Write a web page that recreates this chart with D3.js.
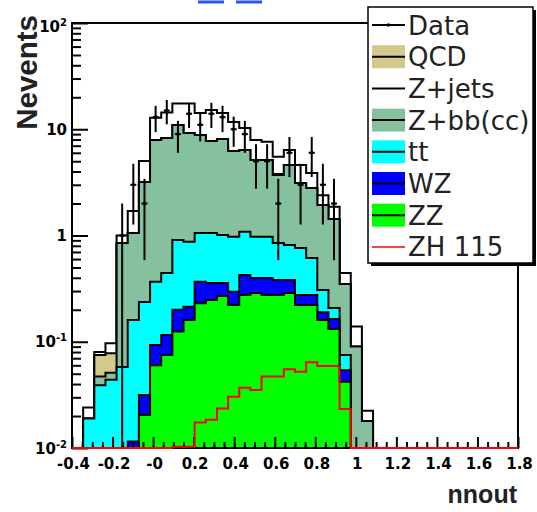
<!DOCTYPE html>
<html><head><meta charset="utf-8">
<script src="https://cdn.jsdelivr.net/npm/d3@7"></script>
<style>html,body{margin:0;padding:0;background:#fff;}svg{display:block;}</style>
</head><body>
<svg id="c" width="537" height="512"></svg>
<script>
// ---- binning ----
const xMin = -0.4, xMax = 1.8, nBins = 40;
const xTickValues = [-0.4,-0.2,0,0.2,0.4,0.6,0.8,1.0,1.2,1.4,1.6,1.8];
const xTickLabels = ["-0.4","-0.2","-0","0.2","0.4","0.6","0.8","1","1.2","1.4","1.6","1.8"];
const yTickValues = [100,10,1,0.1,0.01];
const yTickBase = ["10","10","1","10","10"];
const yTickExp  = ["2","","","-1","-2"];

// ---- series (per bin, 40 bins) ----
const zz   = [0,0,0,0,0,0,0.0205,0.060,0.075,0.125,0.160,0.230,0.247,0.270,0.222,0.275,0.288,0.275,0.275,0.288,0.222,0.222,0.160,0.132,0.042,0,0,0,0,0,0,0,0,0,0,0,0,0,0,0];
const wz   = [0,0,0,0,0,0.0115,0.011,0.033,0.041,0.075,0.054,0.137,0.110,0.087,0.074,0.150,0.110,0.123,0.106,0.093,0.053,0.053,0.030,0.032,0.012,0,0,0,0,0,0,0,0,0,0,0,0,0,0,0];
const tt   = [0,0.019,0.039,0.044,0.058,0.1485,0.205,0.274,0.328,0.708,0.661,0.689,0.699,0.653,0.679,0.662,0.577,0.577,0.469,0.434,0.488,0.339,0.117,0.044,0.021,0,0,0,0,0,0,0,0,0,0,0,0,0,0,0];
const zbb  = [0,0,0.008,0.007,0.79,0.896,2.95,7.56,7.84,10.05,8.35,7.77,6.68,7.08,5.27,5.29,4.16,4.16,2.86,3.80,2.36,2.19,1.63,1.22,0.275,0.090,0.018,0,0,0,0,0,0,0,0,0,0,0,0,0];
const qcd  = [0,0,0.028,0.027,0,0,0,0,0,0,0,0,0,0,0,0,0,0,0.09,0,0,0,0,0,0,0,0,0,0,0,0,0,0,0,0,0,0,0,0,0];
const zjets= [0,0.005,0.005,0.019,0.15,0.644,1.83,4.87,6.1,6.54,8.28,5.37,7.46,6.11,5.46,3.92,2.80,2.51,1.72,1.77,1.49,1.07,0.46,0.44,0.094,0.049,0.0044,0,0,0,0,0,0,0,0,0,0,0,0,0];
const zh   = [0,0,0,0,0,0,0,0,0,0.0103,0.0103,0.0174,0.0184,0.0236,0.0304,0.037,0.0352,0.0471,0.0471,0.0551,0.0522,0.0641,0.0591,0.0591,0.0233,0,0,0,0,0,0,0,0,0,0,0,0,0,0,0];
const data = [0,0,0,0,1,3,2,13,15,9,14,11,14,13,10,9,5,5,2,6,3,6,3,2,0,0,0,0,0,0,0,0,0,0,0,0,0,0,0,0];

const stackKeys   = ["ZZ","WZ","tt","Zbb","QCD","Zjets"];
const stackColors = {ZZ:"#00ff00", WZ:"#0000ff", tt:"#00ffff", Zbb:"#86c19f", QCD:"#d2c98b", Zjets:"#ffffff"};
const legendNames = ["Data","QCD","Z+jets","Z+bb(cc)","tt","WZ","ZZ","ZH 115"];

// ---- layout ----
const L = 72, R = 518, T = 23, B = 448;
const svg = d3.select("#c");
const x = d3.scaleLinear().domain([xMin, xMax]).range([L, R]);
const y = d3.scaleLog().domain([0.01, 100]).range([B, T]);
const bw = (xMax - xMin) / nBins;
const edges = d3.range(nBins + 1).map(i => xMin + i * bw);

const rows = d3.range(nBins).map(i => ({ZZ: zz[i], WZ: wz[i], tt: tt[i], Zbb: zbb[i], QCD: qcd[i], Zjets: zjets[i]}));
const stacked = d3.stack().keys(stackKeys)(rows);

svg.append("rect").attr("x",0).attr("y",0).attr("width",537).attr("height",512).attr("fill","#fff");
svg.append("defs").append("clipPath").attr("id","fr").append("rect").attr("x",L).attr("y",T).attr("width",R-L).attr("height",B-T);
const plot = svg.append("g").attr("clip-path","url(#fr)");

const yc = v => (v > 0.01 ? y(v) : B);
function stepPts(vals){
  const pts = vals.map((v,i) => [edges[i], v]);
  pts.push([edges[nBins], vals[nBins-1]]);
  return pts;
}
const area = d3.area().curve(d3.curveStepAfter).x(d => x(d[0])).y0(B).y1(d => yc(d[1]));
const line = d3.line().curve(d3.curveStepAfter).x(d => x(d[0])).y(d => yc(d[1]));

for (let s = stacked.length - 1; s >= 0; s--) {
  const layer = stacked[s];
  const cum = layer.map(d => d[1]);
  const pts = stepPts(cum);
  plot.append("path").attr("d", area(pts)).attr("fill", stackColors[layer.key]);
  plot.append("path").attr("d", line(pts)).attr("fill","none").attr("stroke","#000").attr("stroke-width",2);
}

// data points
const dg = plot.append("g");
data.forEach((n,i) => {
  if (n <= 0) return;
  const cx = x((edges[i] + edges[i+1]) / 2);
  const e = Math.sqrt(n);
  const lo = n - e > 0.01 ? y(n - e) : B;
  dg.append("line").attr("x1",cx).attr("x2",cx).attr("y1",y(n+e)).attr("y2",lo).attr("stroke","#000").attr("stroke-width",2);
  dg.append("line").attr("x1",cx-3).attr("x2",cx+3).attr("y1",y(n)).attr("y2",y(n)).attr("stroke","#000").attr("stroke-width",2);
  dg.append("circle").attr("cx",cx).attr("cy",y(n)).attr("r",1.8).attr("fill","#000");
});

// ---- axes ----
const minorX = d3.range(-0.4, 1.8001, 0.05).filter(v => Math.abs(Math.round(v*5) - v*5) > 1e-6);
svg.append("g").attr("transform",`translate(0,${B})`)
  .call(d3.axisBottom(x).tickValues(minorX).tickSize(-6).tickFormat(""))
  .call(g => { g.select(".domain").remove(); g.selectAll("line").attr("stroke","#000").attr("stroke-width",2); });
const xAx = svg.append("g").attr("transform",`translate(0,${B})`)
  .call(d3.axisBottom(x).tickValues(xTickValues).tickSize(-11).tickPadding(10).tickFormat((d,i) => xTickLabels[i]))
  .call(g => { g.select(".domain").remove(); g.selectAll("line").attr("stroke","#000").attr("stroke-width",2); });
xAx.selectAll("text").attr("font-family","DejaVu Sans").attr("font-weight","bold").attr("font-size",15).attr("fill","#000").attr("dy","0.71em").attr("x",1);

const minorY = [];
[0.01,0.1,1,10].forEach(dec => { for (let m = 2; m <= 9; m++) minorY.push(dec*m); });
svg.append("g").attr("transform",`translate(${L},0)`)
  .call(d3.axisLeft(y).tickValues(minorY).tickSize(-9).tickFormat(""))
  .call(g => { g.select(".domain").remove(); g.selectAll("line").attr("stroke","#000").attr("stroke-width",2); });
svg.append("g").attr("transform",`translate(${L},0)`)
  .call(d3.axisLeft(y).tickValues(yTickValues).tickSize(-16).tickFormat(""))
  .call(g => { g.select(".domain").remove(); g.selectAll("line").attr("stroke","#000").attr("stroke-width",2); });

const yl = svg.append("g").attr("font-family","DejaVu Sans").attr("font-weight","bold").attr("fill","#000");
yTickValues.forEach((v,i) => {
  let by = y(v) + 5.5;
  if (i === 0) by = y(v) + 9;
  const t = yl.append("text").attr("x", 67).attr("y", by).attr("text-anchor","end").attr("font-size",15);
  t.append("tspan").text(yTickBase[i]);
  if (yTickExp[i]) t.append("tspan").attr("font-size",10).attr("dy",-6).text(yTickExp[i]);
});

// frame
svg.append("rect").attr("x",L).attr("y",T).attr("width",R-L).attr("height",B-T).attr("fill","none").attr("stroke","#000").attr("stroke-width",2);

// ZH 115 overlay (drawn over the frame so its zero bins show along the bottom edge)
svg.append("path").attr("d", line(stepPts(zh))).attr("fill","none").attr("stroke","#ff0000").attr("stroke-width",2);

// axis titles
svg.append("text").attr("transform",`translate(37,15) rotate(-90)`).attr("text-anchor","end")
  .attr("font-family","Liberation Sans").attr("font-weight","bold").attr("font-size",29.5).attr("fill","#222").text("Nevents");
svg.append("text").attr("x",517).attr("y",503).attr("text-anchor","end")
  .attr("font-family","Liberation Sans").attr("font-weight","bold").attr("font-size",25).attr("fill","#222").text("nnout");

// clipped title fragments
svg.append("line").attr("x1",198).attr("x2",224).attr("y1",2).attr("y2",2).attr("stroke","#2a4dff").attr("stroke-width",3);
svg.append("line").attr("x1",236).attr("x2",262).attr("y1",2).attr("y2",2).attr("stroke","#2a4dff").attr("stroke-width",3);

// ---- legend ----
const lg = svg.append("g");
const LX = 368, LY = 7, LW = 165, LH = 256;
lg.append("rect").attr("x",LX+3).attr("y",LY+3).attr("width",LW).attr("height",LH).attr("fill","#000");
lg.append("rect").attr("x",LX).attr("y",LY).attr("width",LW).attr("height",LH).attr("fill","#fff").attr("stroke","#000").attr("stroke-width",1.5);
const legFill = {"QCD":stackColors.QCD, "Z+bb(cc)":stackColors.Zbb, "tt":stackColors.tt, "WZ":stackColors.WZ, "ZZ":stackColors.ZZ};
legendNames.forEach((name,i) => {
  const cy = 25 + i * 31.7;
  if (legFill[name]) {
    lg.append("rect").attr("x",372).attr("y",cy-11.5).attr("width",33).attr("height",23).attr("fill",legFill[name]);
  }
  const col = name === "ZH 115" ? "#ff0000" : "#000";
  lg.append("line").attr("x1",372).attr("x2",405).attr("y1",cy).attr("y2",cy).attr("stroke",col).attr("stroke-width", name==="ZH 115"?1.5:2);
  if (name === "Data") lg.append("circle").attr("cx",388.5).attr("cy",cy).attr("r",1.8).attr("fill","#000");
  lg.append("text").attr("x",408).attr("y",cy+9.5).attr("font-family","DejaVu Sans").attr("font-size",26).attr("fill","#222").text(name);
});
</script>
</body></html>
